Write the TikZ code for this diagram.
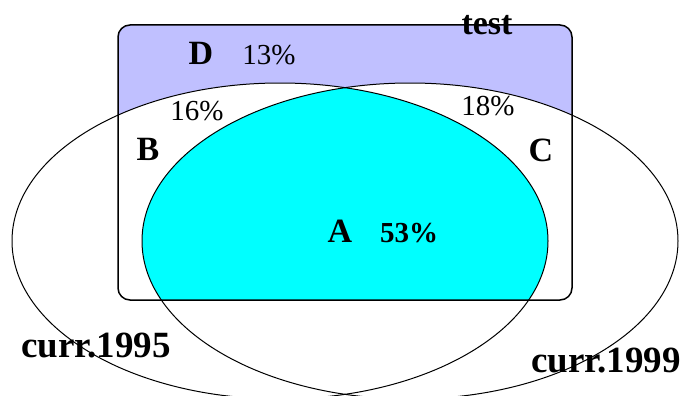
\documentclass[tikz,border=0pt]{standalone}
\usepackage{fontspec}
\setmainfont{Liberation Serif}
\definecolor{testblue}{RGB}{192,192,255}
\definecolor{bothcyan}{RGB}{0,255,255}
\tikzstyle{region} = [
    font=\fontsize{34}{36}\selectfont\bfseries,
    anchor=base,
    inner sep=0pt
]
\tikzstyle{percent} = [
    font=\fontsize{29}{31}\selectfont,
    anchor=base,
    inner sep=0pt
]
\tikzstyle{setname} = [
    font=\fontsize{37}{40}\selectfont\bfseries,
    anchor=base,
    inner sep=0pt
]
\tikzstyle{outline} = [draw=black, line width=1pt]

\begin{document}
\begin{tikzpicture}[x=1pt, y=-1pt]

\useasboundingbox (0,0) rectangle (685,396);

% test box and the two curricula
\fill [testblue, rounded corners=12pt] (118,25) rectangle (572,300);
\fill [white] (280,241) ellipse [x radius=268, y radius=158];
\fill [white] (410,241) ellipse [x radius=268, y radius=158];
\begin{scope}
\clip [rounded corners=12pt] (118,25) rectangle (572,300);
\clip (280,241) ellipse [x radius=268, y radius=158];
\fill [bothcyan] (410,241) ellipse [x radius=268, y radius=158];
\end{scope}

\draw [outline] (280,241) ellipse [x radius=268, y radius=158];
\draw [outline] (410,241) ellipse [x radius=268, y radius=158];
\draw [outline, line width=1.5pt, rounded corners=12pt] (118,25) rectangle (572,300);

\node (test) [setname, font=\fontsize{34}{36}\selectfont\bfseries] at (487,35) {test};
\node (c95) [setname] at (96,357) {curr.1995};
\node (c99) [setname] at (606,372) {curr.1999};

\node (D) [region] at (201,65) {D};
\node (pD) [percent] at (269,65) {13\%};
\node (pB) [percent] at (197,120) {16\%};
\node (pC) [percent] at (488,115) {18\%};
\node (B) [region] at (148,160) {B};
\node (C) [region] at (541,161) {C};
\node (A) [region] at (340,242) {A};
\node (pA) [percent, font=\fontsize{29}{31}\selectfont\bfseries] at (409,242) {53\%};

\end{tikzpicture}
\end{document}
